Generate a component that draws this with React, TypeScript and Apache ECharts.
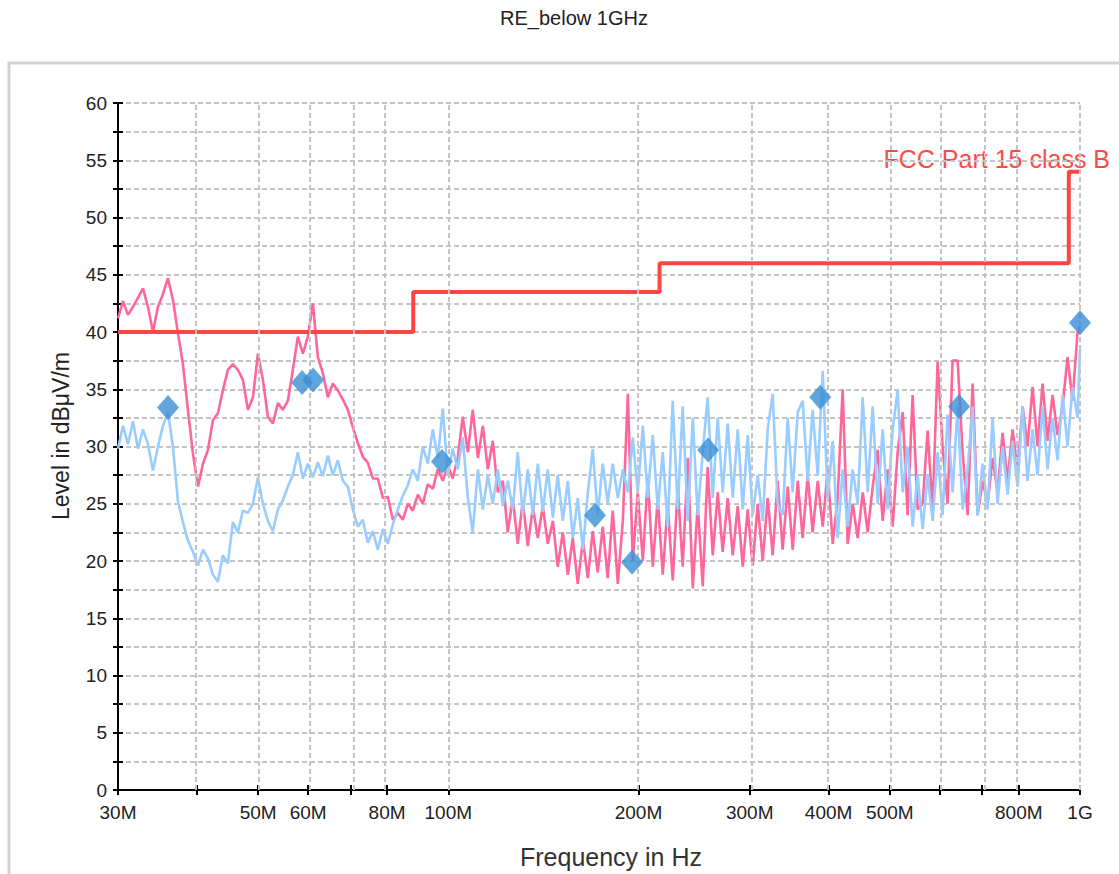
import React, { useEffect, useRef } from "react";
import * as echarts from "echarts";

// Frequency grid (MHz) shared by both measured traces
const FREQ_MHZ = [
  30.0, 30.55, 31.11, 31.68, 32.27, 32.86, 33.46, 34.08, 34.7, 35.34,
  35.99, 36.65, 37.33, 38.01, 38.71, 39.42, 40.15, 40.89, 41.64, 42.4,
  43.18, 43.97, 44.78, 45.6, 46.45, 47.3, 48.17, 49.06, 49.96, 50.88,
  51.81, 52.76, 53.73, 54.72, 55.73, 56.75, 57.79, 58.85, 59.94, 61.04,
  62.16, 63.3, 64.47, 65.65, 66.86, 68.09, 69.34, 70.61, 71.91, 73.23,
  74.58, 75.95, 77.35, 78.77, 80.22, 81.69, 83.19, 84.72, 86.28, 87.86,
  89.48, 91.12, 92.8, 94.5, 96.24, 98.01, 99.81, 101.6, 103.5, 105.4,
  107.4, 109.3, 111.4, 113.4, 115.5, 117.6, 119.8, 122.0, 124.2, 126.5,
  128.8, 131.2, 133.6, 136.1, 138.6, 141.1, 143.7, 146.4, 149.0, 151.8,
  154.6, 157.4, 160.3, 163.3, 166.3, 169.3, 172.4, 175.6, 178.8, 182.1,
  185.5, 188.9, 192.4, 195.9, 199.5, 203.2, 206.9, 210.7, 214.6, 218.5,
  222.5, 226.6, 230.8, 235.0, 239.4, 243.8, 248.2, 252.8, 257.4, 262.2,
  267.0, 271.9, 276.9, 282.0, 287.2, 292.5, 297.8, 303.3, 308.9, 314.6,
  320.3, 326.2, 332.2, 338.3, 344.6, 350.9, 357.4, 363.9, 370.6, 377.4,
  384.4, 391.5, 398.6, 406.0, 413.4, 421.0, 428.8, 436.7, 444.7, 452.9,
  461.2, 469.7, 478.3, 487.1, 496.0, 505.1, 514.4, 523.9, 533.5, 543.3,
  553.3, 563.5, 573.8, 584.4, 595.1, 606.0, 617.2, 628.5, 640.1, 651.9,
  663.9, 676.1, 688.5, 701.2, 714.0, 727.2, 740.5, 754.1, 768.0, 782.1,
  796.5, 811.2, 826.0, 841.2, 856.7, 872.5, 888.5, 904.8, 921.4, 938.4,
  955.6, 973.2, 991.1, 1000.0,
];

// Pink trace, level in dBuV/m
const LEVEL_PINK = [
  41.2, 42.7, 41.5, 42.2, 43.0, 43.8, 42.2, 40.0, 42.2, 43.3,
  44.7, 42.8, 39.9, 37.2, 33.2, 29.4, 26.5, 28.5, 29.7, 32.3,
  32.9, 34.9, 36.7, 37.2, 36.7, 35.8, 33.2, 34.3, 38.1, 35.8,
  32.6, 32.0, 33.8, 33.2, 34.0, 36.7, 39.6, 38.1, 39.6, 42.5,
  37.8, 36.4, 34.3, 35.5, 34.9, 34.1, 33.2, 31.7, 30.3, 29.1,
  28.6, 27.2, 27.2, 25.5, 25.6, 23.6, 24.2, 23.6, 25.0, 24.4,
  25.8, 25.0, 26.7, 26.3, 28.0, 27.0, 28.4, 27.2, 29.0, 32.6,
  29.5, 33.2, 29.0, 31.8, 28.0, 30.5, 26.0, 27.0, 22.5, 25.5,
  21.5, 25.3, 21.3, 24.7, 22.0, 24.8, 21.5, 23.5, 19.5, 22.5,
  18.8, 22.0, 18.0, 21.8, 18.5, 22.6, 19.0, 23.0, 18.5, 24.4,
  18.0, 23.5, 34.6, 20.0, 26.0, 20.0, 27.3, 19.5, 25.5, 18.8,
  25.0, 18.3, 26.5, 19.5, 29.0, 17.6, 25.0, 17.8, 28.2, 20.5,
  26.0, 20.8, 25.5, 20.5, 24.8, 19.5, 24.5, 19.6, 25.0, 20.0,
  25.5, 20.5, 27.0, 21.0, 26.5, 21.0, 27.0, 22.0, 27.5, 22.5,
  27.0, 23.0, 28.0, 21.5, 25.5, 35.0, 21.5, 25.0, 22.0, 26.0,
  22.5, 26.5, 29.7, 23.5, 28.0, 23.0, 29.5, 33.0, 24.0, 34.5,
  24.5, 25.0, 31.4, 24.5, 37.4, 30.0, 25.0, 37.5, 37.5, 29.5,
  24.0, 35.5, 24.0, 27.0, 25.0, 29.0, 26.0, 31.2, 27.0, 31.5,
  28.0, 33.5, 30.0, 35.2, 30.0, 35.5, 30.5, 34.5, 31.0, 33.5,
  37.8, 34.0, 40.0, 40.5,
];

// Light blue trace, level in dBuV/m
const LEVEL_BLUE = [
  29.8, 31.8, 30.2, 32.2, 29.8, 31.5, 30.2, 27.9, 30.0, 31.8,
  33.0, 30.0, 25.2, 23.4, 21.8, 20.8, 19.6, 21.0, 20.2, 18.8,
  18.2, 20.5, 19.8, 23.4, 22.5, 24.4, 24.2, 25.0, 27.3, 25.0,
  23.5, 22.6, 24.5, 25.3, 26.5, 27.5, 29.5, 27.2, 28.5, 27.3,
  28.6, 27.4, 29.2, 27.5, 28.8, 27.0, 26.5, 24.5, 23.0, 23.6,
  21.6, 22.6, 21.0, 22.8, 21.5, 23.2, 24.5, 25.7, 26.6, 28.0,
  27.0, 30.0, 28.5, 31.5, 29.0, 33.3, 27.5, 29.8, 28.0, 30.8,
  25.5, 22.5, 28.0, 24.5, 27.5, 25.0, 28.0, 24.8, 27.0, 24.5,
  29.5, 24.0, 28.0, 24.0, 28.5, 24.3, 28.0, 23.8, 27.5, 23.5,
  27.0, 22.0, 25.5, 21.0, 26.0, 29.8, 24.0, 28.5, 25.0, 28.5,
  25.5, 28.0, 26.0, 30.8, 26.0, 31.8, 25.5, 31.0, 24.5, 29.5,
  23.0, 34.0, 24.5, 33.5, 23.5, 32.5, 24.0, 29.5, 34.3, 25.5,
  32.5, 26.0, 32.0, 25.5, 31.5, 24.5, 31.0, 24.0, 27.5, 23.5,
  31.5, 34.6, 25.0, 24.0, 32.5, 26.0, 33.0, 34.0, 27.0, 33.2,
  27.5, 36.6, 25.5, 30.5, 22.0, 28.0, 23.0, 28.0, 25.0, 34.3,
  26.0, 33.5, 25.0, 31.5, 24.5, 31.5, 34.9, 26.0, 30.0, 23.0,
  27.5, 22.8, 27.5, 23.5, 29.5, 24.0, 32.8, 26.0, 33.5, 24.5,
  28.0, 33.5, 24.0, 28.5, 24.5, 32.5, 25.0, 30.0, 25.8, 30.5,
  26.5, 33.5, 27.0, 31.5, 27.5, 33.5, 28.0, 32.5, 28.8, 34.5,
  30.0, 35.2, 32.5, 38.5,
];

// Final measurement markers
const MARKER_FREQ_MHZ = [36.0, 58.7, 61.1, 97.7, 170.7, 195.4, 257.8, 388.0, 643.6, 1000.0];
const MARKER_LEVEL = [33.4, 35.6, 35.8, 28.7, 24.0, 19.9, 29.7, 34.3, 33.5, 40.8];

// FCC Part 15 class B limit
const LIMIT_FREQ_MHZ = [30, 88, 88, 216, 216, 960, 960, 1000];
const LIMIT_LEVEL = [40, 40, 43.5, 43.5, 46, 46, 54, 54];

// Axis ticks / grid
const TICK_FREQ_MHZ = [30, 40, 50, 60, 70, 80, 100, 200, 300, 400, 500, 600, 700, 800, 1000];
const GRID_FREQ_MHZ = [40, 50, 60, 70, 80, 100, 200, 300, 400, 500, 600, 700, 800, 1000];
const LABEL_FREQ_MHZ = [30, 50, 60, 80, 100, 200, 300, 400, 500, 800, 1000];
const LABEL_TEXT = ["30M", "50M", "60M", "80M", "100M", "200M", "300M", "400M", "500M", "800M", "1G"];

const lg = (mhz: number) => Math.log10(mhz * 1e6);

export default function App() {
  const ref = useRef<HTMLDivElement>(null);

  useEffect(() => {
    const el = ref.current;
    if (!el) return;
    const chart = echarts.init(el, null, { renderer: "svg" });
    const font = "'Liberation Sans', Arial, sans-serif";
    const xMin = lg(30);
    const xMax = lg(1000);
    const tickVals = TICK_FREQ_MHZ.map(lg);
    const labelVals = LABEL_FREQ_MHZ.map(lg);
    const labelFor = (v: number) => {
      let best = -1;
      let d = 1e9;
      LABEL_FREQ_MHZ.forEach((f, i) => {
        const dd = Math.abs(lg(f) - v);
        if (dd < d) {
          d = dd;
          best = i;
        }
      });
      return best >= 0 && d < 1e-4 ? LABEL_TEXT[best] : "";
    };
    const gridLine = { color: "#c4c4c4", type: [5, 3] as number[], width: 2 };

    const option: any = {
      animation: false,
      backgroundColor: "#fff",
      grid: { left: 118, right: 39, top: 103, bottom: 84, containLabel: false },
      xAxis: [
        {
          type: "value",
          min: xMin,
          max: xMax,
          position: "bottom",
          axisLine: { show: true, onZero: false, lineStyle: { color: "#000", width: 2 } },
          axisTick: { show: true, customValues: tickVals, length: 5, lineStyle: { color: "#000", width: 2 } },
          axisLabel: {
            show: true,
            customValues: labelVals,
            formatter: (v: number) => labelFor(v),
            fontSize: 19,
            fontFamily: font,
            color: "#222",
            margin: 13,
          },
          splitLine: { show: false },
        },
        {
          type: "value",
          min: xMin,
          max: xMax,
          position: "top",
          offset: -687,
          axisLine: { show: false },
          axisTick: { show: true, inside: false, customValues: tickVals, length: 5, lineStyle: { color: "#000", width: 2 } },
          axisLabel: { show: false },
          splitLine: { show: false },
        },
      ],
      yAxis: [
        {
          type: "value",
          min: 0,
          max: 60,
          interval: 2.5,
          position: "left",
          axisLine: { show: true, onZero: false, lineStyle: { color: "#000", width: 2 } },
          axisTick: { show: true, length: 5, lineStyle: { color: "#000", width: 2 } },
          axisLabel: {
            formatter: (v: number) => (Math.abs(v % 5) < 1e-9 ? String(v) : ""),
            fontSize: 19,
            fontFamily: font,
            color: "#222",
            margin: 11,
          },
          splitLine: { show: true, lineStyle: gridLine },
        },
        {
          type: "value",
          min: 0,
          max: 60,
          interval: 2.5,
          position: "right",
          offset: -962,
          axisLine: { show: false },
          axisTick: { show: true, inside: false, length: 5, lineStyle: { color: "#000", width: 2 } },
          axisLabel: { show: false },
          splitLine: { show: false },
        },
      ],
      graphic: [
        {
          type: "rect",
          shape: { x: 9, y: 63, width: 1200, height: 900 },
          style: { fill: "none", stroke: "#d2d2d2", lineWidth: 3 },
          silent: true,
          z: -10,
        },
        {
          type: "text",
          x: 574,
          y: 18,
          style: { text: "RE_below 1GHz", fontSize: 20, fontFamily: font, fill: "#222", textAlign: "center", textVerticalAlign: "middle" },
        },
        {
          type: "text",
          x: 61,
          y: 436,
          rotation: Math.PI / 2,
          style: { text: "Level in dBμV/m", fontSize: 23, fontFamily: font, fill: "#222", textAlign: "center", textVerticalAlign: "middle" },
        },
        {
          type: "text",
          x: 611,
          y: 857,
          style: { text: "Frequency in Hz", fontSize: 25, fontFamily: font, fill: "#333", textAlign: "center", textVerticalAlign: "middle" },
        },
        {
          type: "text",
          x: 1110,
          y: 159,
          style: { text: "FCC Part 15 class B", fontSize: 25, fontFamily: font, fill: "#ff4a4a", textAlign: "right", textVerticalAlign: "middle" },
        },
      ],
      series: [
        {
          name: "grid",
          type: "line",
          data: [],
          z: 1,
          silent: true,
          markLine: {
            silent: true,
            symbol: ["none", "none"],
            label: { show: false },
            lineStyle: gridLine,
            data: GRID_FREQ_MHZ.map((f) => ({ xAxis: lg(f) })),
          },
        },
        {
          name: "pink",
          type: "line",
          z: 2,
          symbol: "none",
          showSymbol: false,
          silent: true,
          lineStyle: { color: "#ff6699", width: 2.6 },
          data: FREQ_MHZ.map((f, i) => [lg(f), LEVEL_PINK[i]]),
        },
        {
          name: "blue",
          type: "line",
          z: 3,
          symbol: "none",
          showSymbol: false,
          silent: true,
          lineStyle: { color: "#99ccff", width: 2.6 },
          data: FREQ_MHZ.map((f, i) => [lg(f), LEVEL_BLUE[i]]),
        },
        {
          name: "limit",
          type: "line",
          z: 4,
          symbol: "none",
          showSymbol: false,
          silent: true,
          lineStyle: { color: "#ff4444", width: 4 },
          data: LIMIT_FREQ_MHZ.map((f, i) => [lg(f), LIMIT_LEVEL[i]]),
        },
        {
          name: "markers",
          type: "scatter",
          z: 5,
          symbol: "diamond",
          symbolSize: [22, 25],
          silent: true,
          itemStyle: { color: "#3a8fd6" },
          data: MARKER_FREQ_MHZ.map((f, i) => [lg(f), MARKER_LEVEL[i]]),
        },
      ],
    };
    chart.setOption(option);
    return () => chart.dispose();
  }, []);

  return <div ref={ref} style={{ position: "absolute", left: 0, top: 0, width: 1119, height: 874 }} />;
}
